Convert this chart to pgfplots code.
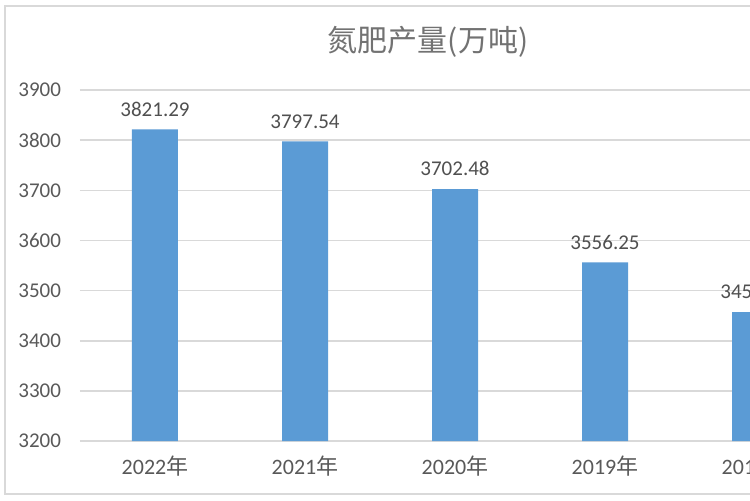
\documentclass[border=0pt]{standalone}
\usepackage{fontspec}
\usepackage{pgfplots}
\pgfplotsset{compat=1.18}
\setmainfont{Carlito}
\newfontfamily\cjk{Noto Sans CJK SC}
\definecolor{barblue}{HTML}{5B9BD5}
\definecolor{txtgray}{HTML}{595959}
\definecolor{gridgray}{HTML}{D9D9D9}
\begin{document}
\begin{tikzpicture}
\path[use as bounding box] (0,0) rectangle (375pt,250pt);
\clip (0,0) rectangle (375pt,250pt);
\fill[white] (0,0) rectangle (375pt,250pt);
\draw[gridgray, line width=0.8pt] (2.5pt,3pt) rectangle (450pt,247pt);
\begin{axis}[
    anchor=south west, at={(40pt,29.5pt)},
    scale only axis,
    width=375pt, height=175.5pt,
    xmin=-0.5, xmax=4.5,
    ymin=3200, ymax=3900,
    ytick={3200,3300,...,3900},
    xtick={0,1,2,3,4},
    xticklabels={2022{\cjk 年},2021{\cjk 年},2020{\cjk 年},2019{\cjk 年},2018{\cjk 年}},
    axis line style={draw=none},
    tick style={draw=none},
    ymajorgrids,
    major grid style={gridgray, line width=0.8pt},
    /pgf/number format/assume math mode=true,
    /pgf/number format/1000 sep={},
    ticklabel style={font=\fontsize{10.5}{12}\selectfont, text=txtgray},
    xticklabel style={font=\fontsize{11}{12}\selectfont, yshift=-4pt},
    yticklabel style={xshift=-6pt},
    title={\cjk 氮肥产量(万吨)},
    title style={font=\fontsize{15}{18}\selectfont, text=txtgray!85, at={(0.464,1)}, anchor=south, yshift=7pt},
    clip=false,
]
\addplot[ybar, bar width=23pt, fill=barblue, draw=none,
    point meta=explicit symbolic,
    nodes near coords,
    nodes near coords style={font=\fontsize{10.5}{12}\selectfont, text=txtgray!90!black, anchor=south, yshift=3pt}]
  coordinates {
    (0,3821.29) [3821.29]
    (1,3797.54) [3797.54]
    (2,3702.48) [3702.48]
    (3,3556.25) [3556.25]
    (4,3457.00) [3457.00]
  };
\end{axis}
\end{tikzpicture}
\end{document}
